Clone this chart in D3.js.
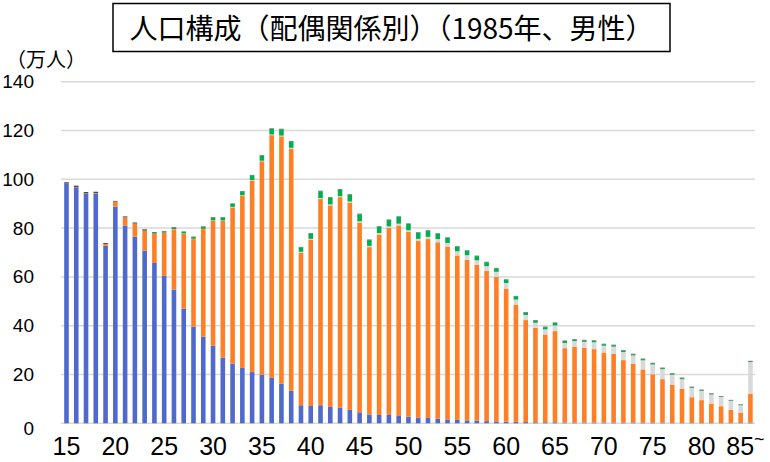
<!DOCTYPE html>
<html>
<head>
<meta charset="utf-8">
<script src="https://cdn.jsdelivr.net/npm/d3@7"></script>
<style>
  body { margin: 0; background: #fff; }
  svg { display: block; }
  .grid line { stroke: #d9d9d9; stroke-width: 1.5; }
  .ylab { font-family: "Liberation Sans", Arial, sans-serif; font-size: 19px; fill: #000; }
  .xlab { font-family: "Liberation Sans Narrow", "Liberation Sans", sans-serif; font-size: 25px; fill: #000; }
  .jp { font-family: "Noto Sans CJK JP", sans-serif; fill: #000; }
</style>
</head>
<body>
<svg id="chart" width="770" height="462"></svg>
<script>
// ages 15 .. 85(85+)
const ages = d3.range(15, 86);
const tickAges = [15, 20, 25, 30, 35, 40, 45, 50, 55, 60, 65, 70, 75, 80, 85];
const yTicks = [0, 20, 40, 60, 80, 100, 120, 140];

// values (万人)
const neverMarried = [98.1, 96.7, 94.1, 94.1, 72.8, 88.8, 81.0, 76.5, 70.8, 65.7,
  60.4, 54.8, 47.0, 39.6, 35.5, 31.8, 26.9, 24.5, 22.7, 21.0,
  19.9, 18.6, 16.2, 13.3, 7.4, 7.1, 7.4, 6.7, 6.3, 5.5,
  4.5, 3.6, 3.4, 3.4, 3.0, 2.7, 2.3, 2.2, 1.9, 1.6,
  1.4, 1.2, 1.1, 0.9, 0.8, 0.7, 0.6, 0.5, 0.4, 0.4,
  0.4, 0.3, 0.3, 0.3, 0.3, 0.3, 0.2, 0.2, 0.2, 0.2,
  0.2, 0.2, 0.1, 0.1, 0.1, 0.1, 0.1, 0.1, 0.1, 0.1, 0.2];
const married = [0.1, 0.1, 0.1, 0.2, 0.7, 2.0, 3.3, 5.2, 8.0, 12.0,
  17.6, 24.7, 30.7, 35.9, 44.1, 51.3, 56.0, 64.0, 70.6, 78.5,
  87.5, 99.5, 101.4, 99.3, 62.6, 68.2, 84.5, 82.6, 86.4, 85.0,
  77.8, 68.6, 74.0, 76.7, 78.1, 75.7, 72.4, 73.3, 72.3, 70.8,
  67.4, 65.8, 63.8, 61.6, 59.2, 54.5, 47.9, 41.8, 38.8, 36.0,
  37.4, 30.5, 31.1, 30.7, 30.1, 28.7, 28.2, 25.7, 24.2, 21.9,
  19.9, 17.9, 15.7, 14.0, 10.6, 9.4, 8.0, 6.9, 5.4, 4.3, 12.0];
const widowed = [0, 0, 0, 0, 0, 0, 0, 0, 0, 0,
  0.1, 0.1, 0.1, 0.1, 0.1, 0.1, 0.2, 0.2, 0.2, 0.2,
  0.2, 0.3, 0.3, 0.3, 0.3, 0.3, 0.4, 0.4, 0.4, 0.4,
  0.5, 0.5, 0.6, 0.6, 0.7, 0.7, 0.9, 0.9, 1.3, 1.5,
  1.7, 1.9, 1.9, 1.9, 2.1, 2.3, 2.2, 2.1, 2.0, 2.1,
  2.3, 2.1, 2.3, 2.4, 2.8, 2.8, 3.0, 3.3, 3.4, 3.7,
  4.0, 4.1, 4.1, 4.0, 3.8, 3.8, 3.7, 3.8, 3.7, 3.0, 12.9];
const divorced = [0, 0, 0, 0, 0, 0.05, 0.1, 0.2, 0.3, 0.4,
  0.5, 0.6, 0.6, 0.7, 0.8, 1.1, 1.2, 1.2, 1.5, 1.9,
  2.1, 2.3, 2.6, 2.6, 1.8, 2.2, 2.8, 2.8, 2.7, 2.8,
  2.9, 2.4, 2.6, 2.6, 2.8, 2.6, 2.5, 2.5, 2.2, 2.1,
  1.9, 1.8, 1.7, 1.6, 1.4, 1.3, 1.3, 1.0, 0.9, 0.9,
  1.0, 0.8, 0.6, 0.6, 0.6, 0.6, 0.6, 0.6, 0.5, 0.5,
  0.5, 0.4, 0.4, 0.4, 0.3, 0.3, 0.3, 0.2, 0.2, 0.2, 0.2];
const unknown = [0.6, 0.6, 0.6, 0.6, 0.4, 0.3, 0.4, 0.4, 0.4, 0.3,
  0.2, 0.2, 0.2, 0.2, 0.2, 0.2, 0.2, 0.2, 0.2, 0.2,
  0.2, 0.2, 0.2, 0.2, 0.2, 0.2, 0.2, 0.2, 0.2, 0.2,
  0.2, 0.2, 0.2, 0.2, 0.2, 0.2, 0.2, 0.2, 0.2, 0.2,
  0.2, 0.2, 0.2, 0.2, 0.2, 0.2, 0.2, 0.2, 0.2, 0.2,
  0.2, 0.2, 0.2, 0.2, 0.2, 0.2, 0.2, 0.2, 0.2, 0.2,
  0.2, 0.2, 0.2, 0.2, 0.2, 0.2, 0.2, 0.2, 0.2, 0.2, 0.3];

const seriesKeys = ["neverMarried", "married", "widowed", "divorced", "unknown"];
const colors = {
  neverMarried: "#5069cc",
  married: "#ff7f27",
  widowed: "#d9d9d9",
  divorced: "#00b050",
  unknown: "#4d4d4d"
};

const rows = ages.map((a, i) => ({
  age: a,
  neverMarried: neverMarried[i],
  married: married[i],
  widowed: widowed[i],
  divorced: divorced[i],
  unknown: unknown[i]
}));

const svg = d3.select("#chart");

const x = d3.scaleBand()
  .domain(ages)
  .range([61.6, 755.3]);

const y = d3.scaleLinear()
  .domain([0, 140])
  .range([423.3, 81.7]);

const barW = 4.6;

// gridlines
svg.append("g")
  .attr("class", "grid")
  .selectAll("line")
  .data(yTicks)
  .enter()
  .append("line")
  .attr("x1", 61)
  .attr("x2", 755)
  .attr("y1", d => y(d))
  .attr("y2", d => y(d));

// stacked bars
const stacked = d3.stack().keys(seriesKeys)(rows);

svg.append("g")
  .selectAll("g")
  .data(stacked)
  .enter()
  .append("g")
  .attr("fill", d => colors[d.key])
  .selectAll("rect")
  .data(d => d)
  .enter()
  .append("rect")
  .attr("x", d => x(d.data.age) + x.bandwidth() / 2 - barW / 2)
  .attr("y", d => y(d[1]))
  .attr("width", barW)
  .attr("height", d => Math.max(0, y(d[0]) - y(d[1])));

// y labels
svg.append("g")
  .selectAll("text")
  .data(yTicks)
  .enter()
  .append("text")
  .attr("class", "ylab")
  .attr("x", 34)
  .attr("y", d => y(d) + (d === 0 ? 5 : 0))
  .attr("text-anchor", "end")
  .attr("dominant-baseline", "central")
  .text(d => d);

// x labels
const xl = svg.append("g")
  .selectAll("text")
  .data(tickAges)
  .enter()
  .append("text")
  .attr("class", "xlab")
  .attr("x", d => x(d) + x.bandwidth() / 2 + (d === 85 ? -5 : 0))
  .attr("y", 455)
  .attr("text-anchor", "middle")
  .text(d => d);

xl.filter(d => d === 85)
  .append("tspan")
  .attr("dy", -10)
  .style("font-size", "18px")
  .text("~");

// unit label
svg.append("text")
  .attr("class", "jp")
  .attr("x", 46)
  .attr("y", 67)
  .attr("text-anchor", "middle")
  .style("font-size", "20px")
  .text("（万人）");

// title
svg.append("rect")
  .attr("x", 113)
  .attr("y", 3.5)
  .attr("width", 557)
  .attr("height", 48)
  .attr("fill", "#fff")
  .attr("stroke", "#000")
  .attr("stroke-width", 1.5);

svg.append("text")
  .attr("class", "jp")
  .attr("x", 391.5)
  .attr("y", 39)
  .attr("text-anchor", "middle")
  .style("font-size", "28px")
  .text("人口構成（配偶関係別）（1985年、男性）");
</script>
</body>
</html>
